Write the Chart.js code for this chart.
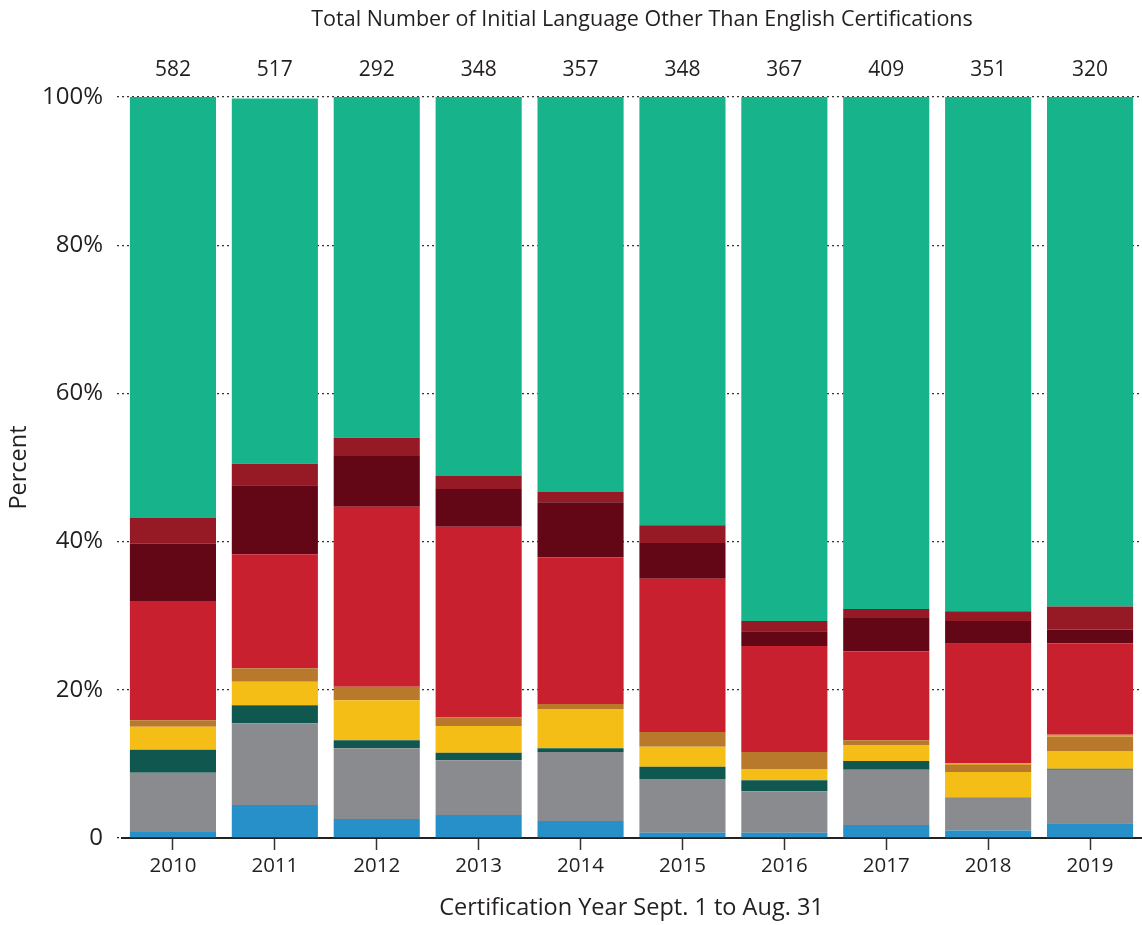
<!DOCTYPE html>
<html>
<head>
<meta charset="utf-8">
<script src="https://cdn.jsdelivr.net/npm/chart.js@4/dist/chart.umd.min.js"></script>
<style>
  html, body { margin: 0; padding: 0; background: #fff; }
  #wrap { width: 1142px; height: 925px; }
</style>
</head>
<body>
<div id="wrap"><canvas id="lote"></canvas></div>
<script>
// --- Daten ---
const years = ['2010', '2011', '2012', '2013', '2014', '2015', '2016', '2017', '2018', '2019'];
const totals = [582, 517, 292, 348, 357, 348, 367, 409, 351, 320];
const yTicks = [0, 20, 40, 60, 80, 100];

// Anteile in Prozent, von unten nach oben
const blue    = [0.8, 4.45, 2.55, 3.1, 2.3, 0.7, 0.7, 1.75, 1.0, 2.0];
const gray    = [8.0, 11.05, 9.55, 7.4, 9.3, 7.26, 5.6, 7.45, 4.5, 7.2];
const teal    = [3.1, 2.4, 1.1, 1.0, 0.5, 1.64, 1.5, 1.2, 0, 0.15];
const yellow  = [3.1, 3.2, 5.4, 3.6, 5.3, 2.7, 1.5, 2.1, 3.4, 2.4];
const brown   = [0.9, 1.8, 1.8, 1.2, 0.7, 2.0, 2.3, 0.7, 0.95, 1.9];
const gold    = [0, 0, 0, 0, 0, 0, 0, 0, 0.25, 0.3];
const red     = [16.1, 15.4, 24.3, 25.7, 19.8, 20.7, 14.3, 12.0, 16.1, 12.3];
const maroon  = [7.7, 9.3, 6.85, 5.1, 7.4, 4.8, 2.0, 4.5, 3.1, 1.9];
const crimson = [3.5, 2.9, 2.45, 1.75, 1.4, 2.4, 1.4, 1.2, 1.3, 3.1];
const green   = [56.8, 49.3, 46.0, 51.15, 53.3, 57.8, 70.7, 69.1, 69.4, 68.75];

const FONT = '"Open Sans", "Noto Sans", sans-serif';
const TEXT = '#231f20';

function ds(label, data, color) {
    return { label: label, data: data, backgroundColor: color, borderWidth: 0 };
}

// --- Titel und Gesamtzahlen oben ---
const topText = {
    id: 'topText',
    afterDraw(chart) {
        const ctx = chart.ctx;
        const x = chart.scales.x;
        ctx.save();
        ctx.fillStyle = TEXT;
        ctx.textAlign = 'center';
        ctx.textBaseline = 'middle';
        ctx.font = '21.5px ' + FONT;
        ctx.fillText('Total Number of Initial Language Other Than English Certifications', 642, 20);
        ctx.font = '21px ' + FONT;
        totals.forEach((t, i) => {
            ctx.fillText(String(t), x.getPixelForValue(i), 70);
        });
        ctx.restore();
    }
};

new Chart(document.getElementById('lote'), {
    type: 'bar',
    data: {
        labels: years,
        datasets: [
            ds('Blue', blue, '#2790c9'),
            ds('Gray', gray, '#8a8b8e'),
            ds('Teal', teal, '#10584f'),
            ds('Yellow', yellow, '#f4be17'),
            ds('Brown', brown, '#b8792c'),
            ds('Gold', gold, '#dba02a'),
            ds('Red', red, '#c8202f'),
            ds('Maroon', maroon, '#630716'),
            ds('Crimson', crimson, '#961a25'),
            ds('Green', green, '#17b38a')
        ]
    },
    options: {
        responsive: true,
        maintainAspectRatio: false,
        animation: false,
        datasets: { bar: { barPercentage: 0.845, categoryPercentage: 1.0 } },
        layout: { padding: { top: 97, right: 1, left: 0, bottom: 0 } },
        plugins: {
            legend: { display: false },
            tooltip: { enabled: false }
        },
        scales: {
            x: {
                stacked: true,
                afterFit: (s) => { s.height = 87; },
                border: { display: true, color: '#222', width: 2 },
                grid: {
                    offset: false,
                    drawOnChartArea: false,
                    drawTicks: true,
                    tickLength: 12,
                    tickColor: '#333',
                    tickWidth: 1.5
                },
                ticks: { color: TEXT, font: { family: FONT, size: 20.5 }, padding: 4 },
                title: {
                    display: true,
                    text: 'Certification Year Sept. 1 to Aug. 31',
                    color: TEXT,
                    font: { family: FONT, size: 23.5 },
                    padding: { top: 0, bottom: 3 }
                }
            },
            y: {
                stacked: true,
                min: 0,
                max: 100,
                afterFit: (s) => { s.width = 122; },
                afterBuildTicks: (s) => { s.ticks = yTicks.map(v => ({ value: v })); },
                border: { display: false, dash: [2, 3] },
                grid: {
                    color: (c) => c.tick && c.tick.value === 0 ? 'rgba(0,0,0,0)' : '#333',
                    lineWidth: 1.3,
                    tickBorderDash: [2, 3],
                    tickLength: 5,
                    tickColor: (c) => c.tick && c.tick.value === 0 ? '#222' : '#333'
                },
                ticks: {
                    color: TEXT,
                    font: { family: FONT, size: 24 },
                    padding: 14,
                    callback: (v) => v === 0 ? '0' : v + '%'
                },
                title: {
                    display: true,
                    text: 'Percent',
                    color: TEXT,
                    font: { family: FONT, size: 23.5 },
                    padding: { top: 5, bottom: 0 }
                }
            }
        }
    },
    plugins: [topText]
});
</script>
</body>
</html>
